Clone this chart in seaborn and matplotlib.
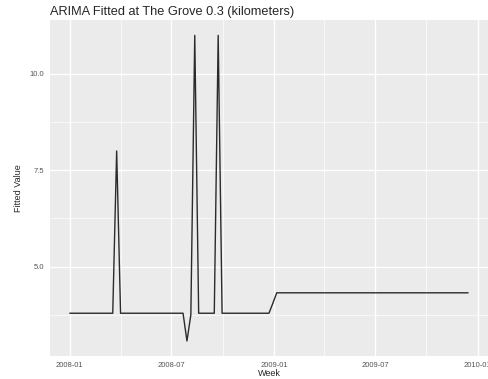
import numpy as np
import pandas as pd
import matplotlib
matplotlib.use('Agg')
import matplotlib.pyplot as plt
import matplotlib.dates as mdates
from matplotlib.ticker import FixedLocator
import seaborn as sns

# weekly fitted values, starting 2008-01-01
start_date = '2008-01-01'
fitted = [
    3.79, 3.79, 3.79, 3.79, 3.79, 3.79, 3.79, 3.79, 3.79, 3.79,
    3.79, 3.79, 8.00, 3.79, 3.79, 3.79, 3.79, 3.79, 3.79, 3.79,
    3.79, 3.79, 3.79, 3.79, 3.79, 3.79, 3.79, 3.79, 3.79, 3.79,
    3.07, 3.75, 11.00, 3.79, 3.79, 3.79, 3.79, 3.79, 11.00, 3.79,
    3.79, 3.79, 3.79, 3.79, 3.79, 3.79, 3.79, 3.79, 3.79, 3.79,
    3.79, 3.79, 4.05, 4.32, 4.32, 4.32, 4.32, 4.32, 4.32, 4.32,
    4.32, 4.32, 4.32, 4.32, 4.32, 4.32, 4.32, 4.32, 4.32, 4.32,
    4.32, 4.32, 4.32, 4.32, 4.32, 4.32, 4.32, 4.32, 4.32, 4.32,
    4.32, 4.32, 4.32, 4.32, 4.32, 4.32, 4.32, 4.32, 4.32, 4.32,
    4.32, 4.32, 4.32, 4.32, 4.32, 4.32, 4.32, 4.32, 4.32, 4.32,
    4.32, 4.32, 4.32,
]
weeks = pd.date_range(start_date, periods=len(fitted), freq='7D')
y_ticks = [5.0, 7.5, 10.0]
y_minor = [3.75, 6.25, 8.75]

df = pd.DataFrame({'Week': weeks, 'Fitted Value': fitted})

sns.set_style('darkgrid', {'axes.facecolor': '#EBEBEB', 'grid.color': 'white'})
plt.rcParams['font.family'] = ['Liberation Sans', 'DejaVu Sans']

fig = plt.figure(figsize=(4.89, 3.79), dpi=100)
ax = fig.add_axes([0.102, 0.06, 0.896, 0.887])

sns.lineplot(data=df, x='Week', y='Fitted Value', color='#2b2b2b', linewidth=1.0, ax=ax)

ax.xaxis.set_major_locator(mdates.MonthLocator(bymonth=[1, 7]))
ax.xaxis.set_minor_locator(mdates.MonthLocator(bymonth=[4, 10]))
ax.xaxis.set_major_formatter(mdates.DateFormatter('%Y-%m'))
ax.yaxis.set_major_locator(FixedLocator(y_ticks))
ax.yaxis.set_minor_locator(FixedLocator(y_minor))
ax.set_yticklabels(['%.1f' % v for v in y_ticks])

ax.grid(which='major', color='white', linewidth=1.0)
ax.grid(which='minor', color='white', linewidth=0.5)
ax.set_axisbelow(True)
for s in ax.spines.values():
    s.set_visible(False)

ax.tick_params(which='major', length=2.5, width=0.6, color='#333333',
               labelsize=5.5, labelcolor='#555555', pad=1.5)
ax.tick_params(which='minor', length=0)

ax.set_xlabel('Week', fontsize=6.5, labelpad=0)
ax.set_ylabel('Fitted Value', fontsize=6.5, labelpad=5)
ax.set_title('ARIMA Fitted at The Grove 0.3 (kilometers)', fontsize=9.2, loc='left', pad=4)

fig.savefig('out.png', dpi=100)
